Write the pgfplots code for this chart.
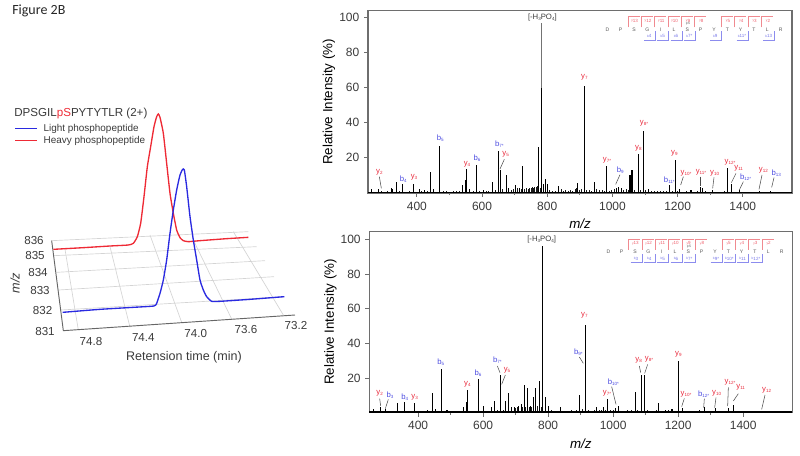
\documentclass[border=0pt]{standalone}
\usepackage{pgfplots}
\pgfplotsset{compat=1.18}
\usepackage{fontspec}
\setmainfont{Liberation Sans}
\newfontfamily\calibri{Carlito}
\definecolor{txt}{HTML}{3A3A3A}
\definecolor{fr}{HTML}{6E6E6E}
\definecolor{gridg}{HTML}{D4D4D4}
\definecolor{lred}{HTML}{EE2A35}
\definecolor{lblue}{HTML}{2A2AE0}
\definecolor{fred}{HTML}{E8283A}
\definecolor{fblue}{HTML}{4A4AE0}
\definecolor{mred}{HTML}{F08A90}
\definecolor{mblue}{HTML}{8C8CEE}

% strong peaks, m/z and relative intensity
\pgfplotstableread{
mz h
261 2.3
283 2.3
321 3
326 2
338 6.2
356 5
389 5.3
408 2
424 1.5
442 12
451 2
470 27
539 4.5
548 7.5
552 13.5
562 2
582 16
603 1.5
632 6
651 24
656 13
675 10.5
682 3
702 4.5
714 3
725 15.5
774 26
781 60
788 5
796 8
802 5
834 4
894 5.5
913 61
945 6
982 15.5
1012 3
1020 3.5
1028 3
1054 10.5
1060 13
1079 22
1094 35
1112 2.5
1176 4.5
1194 18.5
1207 2.5
1241 1.5
1269 3.5
1275 3
1308 1.5
1354 14
1364 5
1390 1.5
1450 1
1486 1
}\toppeaks
% small peaks along the baseline
\pgfplotstableread{
mz h
255 .6
270 .8
292 1
300 .7
310 .9
333 .8
346 1
368 .7
378 1
397 .8
415 1.2
433 .9
460 .8
480 1
490 1.3
500 .8
512 1
520 .9
530 1.2
575 1
592 .9
612 1.1
620 1.4
642 1.5
664 2
690 1.8
696 2.2
708 2.6
720 2
731 2.2
737 2.8
741 2.2
745 3
750 2.6
754 3.2
758 2.8
762 3.6
766 3.2
770 4
778 3
808 1.5
815 1.2
826 1.4
842 2
850 1.4
857 1.8
864 1.2
871 1.7
878 1.3
885 2
890 3
900 1.6
906 2
921 1.5
928 1.8
935 1.4
952 2
960 1.5
968 1.8
975 1.2
990 1.4
998 1.8
1005 2.2
1035 1.5
1042 2
1048 1.6
1068 1.5
1087 1.8
1102 1.5
1120 1.3
1128 1
1138 1.2
1146 .9
1155 1.1
1165 1.3
1185 1.2
1200 1.3
1215 .8
1228 .9
1250 .7
1260 1
1285 .9
1296 .7
1320 .6
1335 .7
1345 1.1
1375 .8
1400 .6
1420 .5
1465 .5
1510 .4
}\topsmall
\pgfplotstableread{
mz h
263 2
283 3
300 2
338 5.8
358 6.3
390 5.8
428 1.5
443 11.5
453 2
471 25
489 1.5
540 3
549 6
553 13
585 19.5
602 4
626 3
634 7
653 21.5
670 6.5
677 11.5
687 3
696 3
710 4
717 5
726 16
736 14.5
746 4
754 9
761 14
774 18
784 96
792 9
802 4
838 3
896 10
915 50.5
949 3
971 3
983 8
1007 2.5
1016 4
1069 12
1087 21.5
1097 21.5
1140 5.5
1161 1.5
1181 2
1200 30
1212 2.5
1267 1.5
1280 3.5
1314 2.5
1354 2.5
1371 4.5
1458 1
}\botpeaks
\pgfplotstableread{
mz h
255 .5
272 .8
292 .9
310 .7
322 1
348 1
368 .7
378 .8
400 .7
415 1
436 .8
462 .9
480 .8
498 .9
510 .7
522 .8
532 1.1
570 .9
593 1
612 .9
620 1.2
645 1.4
662 1.5
700 2.5
705 3
722 3
731 3.4
741 3
750 3.5
768 4
779 3
810 1.4
818 1.2
826 1.2
846 1
855 1.2
863 1
872 1.4
880 1.2
888 1.6
905 2
925 1.3
934 1
942 1.4
958 1.4
965 1.6
977 1.4
992 1.3
1000 1.6
1025 1.2
1035 1.1
1045 1.3
1055 1.4
1062 1.2
1076 1.4
1105 1.6
1115 1.2
1125 1
1133 1.4
1150 1.1
1170 1.3
1188 1.1
1206 1
1222 .8
1235 .7
1248 .8
1258 1
1295 .7
1325 .8
1340 .9
1362 1
1385 .7
1405 .7
1430 .5
1480 .4
1520 .3
}\botsmall

\pgfplotsset{
  spec/.style={
    scale only axis,
    width=318pt,
    xmin=250, xmax=1551,
    ymin=0,
    axis line style={fr,line width=.8pt},
    xtick={400,600,...,1400},
    ytick={20,40,...,100},
    minor x tick num=1,
    xtick pos=bottom, ytick pos=left,
    tick align=outside,
    tick style={fr,line width=.6pt},
    major tick length=3pt,
    minor tick length=1.5pt,
    tick label style={font=\fontsize{9}{10}\selectfont,text=txt},
    /pgf/number format/assume math mode=true,
    /pgf/number format/1000 sep={},
    label style={font=\fontsize{10}{11}\selectfont,text=txt},
    xlabel={\textit{m/z}},
    ylabel={Relative Intensity (\%)},
    every axis x label/.style={at={(axis description cs:0.5,-0.17)},anchor=center},
    every axis y label/.style={at={(axis description cs:-0.092,0.5)},anchor=center,rotate=90},
    clip=false,
  },
  pk/.style={black,ycomb,no markers,line width=.8pt},
  sm/.style={black!90,ycomb,no markers,line width=.65pt},
  base/.style={black,no markers,line width=1.2pt},
}
\newcommand{\sub}[1]{\raisebox{-.25ex}{\fontsize{3.4}{3.4}\selectfont #1}}
\newcommand{\fl}[4]{\node[font=\fontsize{5.8}{6}\selectfont,text=#1,inner sep=0pt] at (#2,#3) {#4};}
\newcommand{\ld}[4]{\draw[black!70,line width=.4pt] (#1,#2)--(#3,#4);}
% peptide map: letters at #1 row, #2 is x of the D
\newcommand{\seq}[2]{%
  \foreach \l [count=\i from 0] in {D,P,S,G,I,L,S,P,Y,T,Y,T,L,R}
    \node[font=\fontsize{3.8}{4}\selectfont,text=black!65,inner sep=0pt] at ({#2+40*\i},#1) {\l};}
\newcommand{\redc}[3]{% x, top y, label
  \draw[mred,line width=.45pt] (#1,#2+32)--(#1,#2)--(#1+35,#2);
  \node[font=\fontsize{2.4}{3}\selectfont,text=fred!75,inner sep=0pt] at (#1+20,#2+12) {#3};}
\newcommand{\bluec}[3]{% right x, bottom y, label
  \draw[mblue,line width=.45pt] (#1-34,#2)--(#1,#2)--(#1,#2-26);
  \node[font=\fontsize{2.4}{3}\selectfont,text=fblue!75,inner sep=0pt] at (#1-18,#2-12) {#3};}

\begin{document}
\begin{tikzpicture}
\path[use as bounding box] (0pt,0pt) rectangle (600pt,-342pt);

\node[font=\calibri\fontsize{10.5}{12}\selectfont,text=black!85,anchor=west,inner sep=0pt] at (9pt,-8.5pt) {Figure 2B};

% left panel, coordinates
\begin{axis}[
  at={(0pt,-67.5pt)},anchor=north west,
  scale only axis,width=232.5pt,height=217.5pt,
  xmin=0,xmax=930,ymin=0,ymax=870,y dir=reverse,
  hide axis,clip=false,
]
\addplot[gridg,line width=.5pt,no markers] coordinates {(162,497) (770,470)};
\addplot[gridg,line width=.5pt,no markers] coordinates {(170,547) (795,512)};
\addplot[gridg,line width=.5pt,no markers] coordinates {(176,600) (822,560)};
\addplot[gridg,line width=.5pt,no markers] coordinates {(183,660) (852,620)};
\addplot[gridg,line width=.5pt,no markers] coordinates {(155,452) (745,425)};
\addplot[gridg,line width=.5pt,no markers] coordinates {(235,720) (195,478)};
\addplot[gridg,line width=.5pt,no markers] coordinates {(390,712) (330,470)};
\addplot[gridg,line width=.5pt,no markers] coordinates {(545,697) (450,435)};
\addplot[gridg,line width=.5pt,no markers] coordinates {(695,687) (580,450)};
\addplot[gridg,line width=.5pt,no markers] coordinates {(850,675) (700,425)};
\addplot[black!60,line width=.7pt,no markers] coordinates {(155,452) (190,722) (885,675)};
\addplot[lred,line width=1pt,no markers,smooth,tension=.3] coordinates {
(160,478) (250,473) (330,468) (385,465) (400,460) (412,440) (422,400) (432,320) (442,230) (452,170) (462,110) (470,80) (475,72) (480,82) (490,130) (500,220) (510,310) (520,370) (530,420) (540,443) (550,452) (565,455) (600,452) (680,446) (745,442)};
\addplot[lblue,line width=1pt,no markers,smooth,tension=.3] coordinates {
(188,667) (300,658) (400,652) (462,648) (470,640) (480,610) (490,570) (500,510) (510,430) (520,360) (530,300) (540,255) (548,238) (553,240) (560,290) (570,380) (580,450) (590,510) (600,570) (610,600) (620,620) (635,634) (660,634) (750,628) (853,620)};
\addplot[lblue,line width=1pt,no markers] coordinates {(45,116) (112,116)};
\addplot[lred,line width=1pt,no markers] coordinates {(45,152) (112,152)};
\end{axis}

\begin{scope}[shift={(0pt,-67.5pt)},x=.25pt,y=-.25pt]
\node[font=\fontsize{8.7}{10}\selectfont,text=txt,anchor=west,inner sep=0pt] at (42,72) {DPSGIL\textcolor{lred}{pS}PYTYTLR (2+)};
\node[font=\fontsize{7.45}{9}\selectfont,text=txt,anchor=west,inner sep=0pt] at (130,116) {Light phosphopeptide};
\node[font=\fontsize{7.45}{9}\selectfont,text=txt,anchor=west,inner sep=0pt] at (130,152) {Heavy phosphopeptide};
\foreach \t/\x/\y in {836/102/452,835/105/497,834/114/548,833/120/602,832/128/663,831/135/725,74.8/273/755,74.4/430/742,74.0/587/730,73.6/738/720,73.2/888/707}
  \node[font=\fontsize{8.7}{10}\selectfont,text=txt,inner sep=0pt] at (\x,\y) {\t};
\node[font=\fontsize{9.4}{11}\selectfont,text=txt,inner sep=0pt] at (552,802) {Retension time (min)};
\node[font=\fontsize{9.5}{11}\selectfont\itshape,text=txt,rotate=90,inner sep=0pt] at (45,580) {m/z};
\end{scope}

% top spectrum
\begin{axis}[spec,at={(276pt,-144.75pt)},anchor=south west,height=136.7pt,ymax=103.7]
\addplot[sm] table[x=mz,y=h] {\topsmall};
\addplot[black!55,ycomb,no markers,line width=.8pt] coordinates {(781,97)};
\addplot[pk] table[x=mz,y=h] {\toppeaks};
\addplot[base] coordinates {(250,.25) (1551,.25)};
\end{axis}

% bottom spectrum
\begin{axis}[spec,at={(277pt,-309.5pt)},anchor=south west,height=136pt,ymax=104.7,width=317.2pt]
\addplot[sm] table[x=mz,y=h] {\botsmall};
\addplot[pk] table[x=mz,y=h] {\botpeaks};
\addplot[base] coordinates {(250,.25) (1551,.25)};
\end{axis}

% annotations of the top spectrum
\begin{scope}[shift={(232.5pt,0pt)},x=.25pt,y=-.25pt]
\fl{txt}{697}{53}{[-H\sub{3}PO\sub{4}]}
\fl{fred}{208}{517}{y\sub{2}} \ld{208}{530}{214}{565}
\fl{fblue}{280}{538}{b\sub{4}}
\fl{fred}{312}{531}{y\sub{3}}
\fl{fblue}{391}{415}{b\sub{5}}
\fl{fred}{471}{492}{y\sub{4}}
\fl{fblue}{501}{476}{b\sub{6}}
\fl{fblue}{568}{432}{b\sub{7*}}
\fl{fred}{587}{464}{y\sub{5}} \ld{583}{478}{570}{507}
\end{scope}
\begin{scope}[shift={(412.5pt,0pt)},x=.25pt,y=-.25pt]
\fl{fred}{103}{232}{y\sub{7}}
\fl{fred}{171}{480}{y\sub{7*}}
\fl{fblue}{211}{512}{b\sub{9}} \ld{210}{524}{197}{553}
\fl{fred}{265}{446}{y\sub{8}}
\fl{fred}{282}{371}{y\sub{8*}}
\fl{fblue}{358}{541}{b\sub{11*}}
\fl{fred}{373}{461}{y\sub{9}}
\fl{fred}{408}{519}{y\sub{10*}} \ld{400}{530}{392}{555}
\fl{fred}{453}{517}{y\sub{11*}} \ld{450}{530}{450}{557}
\fl{fred}{494}{519}{y\sub{10}} \ld{492}{532}{488}{565}
\fl{fred}{540}{487}{y\sub{12*}}
\fl{fred}{566}{506}{y\sub{11}} \ld{558}{520}{544}{548}
\fl{fblue}{587}{532}{b\sub{12*}} \ld{580}{545}{568}{570}
\fl{fred}{640}{511}{y\sub{12}} \ld{636}{525}{627}{568}
\fl{fblue}{679}{520}{b\sub{13}} \ld{672}{533}{665}{562}
\seq{88}{172}
\node[font=\fontsize{2.6}{3}\selectfont,text=black!60,inner sep=0pt] at (414,72) {pS};
\foreach \x/\t in {234/y\sub{13},274/y\sub{12},314/y\sub{11},354/y\sub{10},394/y\sub{9},434/y\sub{8},514/y\sub{5},554/y\sub{4},594/y\sub{3},634/y\sub{2}}
  {\redc{\x}{50}{\t}}
\foreach \x/\t in {316/b\sub{4},356/b\sub{5},396/b\sub{6},436/b\sub{7*},514/b\sub{9},594/b\sub{11*},674/b\sub{13}}
  {\bluec{\x}{120}{\t}}
\end{scope}

% annotations of the bottom spectrum
\begin{scope}[shift={(232.5pt,-169.5pt)},x=.25pt,y=-.25pt]
\fl{txt}{695}{40}{[-H\sub{3}PO\sub{4}]}
\fl{fred}{209}{503}{y\sub{2}} \ld{209}{518}{212}{540}
\fl{fblue}{240}{508}{b\sub{3}} \ld{235}{520}{226}{548}
\fl{fblue}{284}{515}{b\sub{4}}
\fl{fred}{314}{514}{y\sub{3}}
\fl{fblue}{392}{409}{b\sub{5}}
\fl{fred}{472}{474}{y\sub{4}}
\fl{fblue}{504}{441}{b\sub{6}}
\fl{fblue}{562}{403}{b\sub{7*}} \ld{562}{420}{570}{440}
\fl{fred}{591}{432}{y\sub{5}} \ld{586}{447}{575}{475}
\end{scope}
\begin{scope}[shift={(412.5pt,-169.5pt)},x=.25pt,y=-.25pt]
\fl{fred}{103}{268}{y\sub{7}}
\fl{fblue}{85}{379}{b\sub{9*}} \ld{88}{393}{100}{412}
\fl{fred}{171}{503}{y\sub{7*}}
\fl{fblue}{190}{469}{b\sub{10*}} \ld{185}{482}{198}{535}
\fl{fred}{266}{404}{y\sub{8}} \ld{268}{420}{272}{440}
\fl{fred}{297}{401}{y\sub{8*}} \ld{293}{415}{284}{442}
\fl{fred}{385}{384}{y\sub{9}}
\fl{fred}{408}{505}{y\sub{10*}} \ld{403}{517}{395}{542}
\fl{fblue}{461}{504}{b\sub{12*}} \ld{463}{518}{461}{545}
\fl{fred}{500}{501}{y\sub{10}} \ld{498}{515}{494}{545}
\fl{fred}{540}{468}{y\sub{12*}} \ld{535}{484}{533}{540}
\fl{fred}{572}{485}{y\sub{11}} \ld{565}{503}{550}{525}
\fl{fred}{650}{492}{y\sub{12}} \ld{645}{507}{635}{550}
\seq{78}{175}
\node[font=\fontsize{2.6}{3}\selectfont,text=black!60,inner sep=0pt] at (417,62) {pS};
\foreach \x/\t in {236/y\sub{13},276/y\sub{12},316/y\sub{11},356/y\sub{10},396/y\sub{9},436/y\sub{8},516/y\sub{5},556/y\sub{4},596/y\sub{3},636/y\sub{2}}
  {\redc{\x}{40}{\t}}
\foreach \x/\t in {276/b\sub{3},316/b\sub{4},356/b\sub{5},396/b\sub{6},436/b\sub{7*},516/b\sub{9*},556/b\sub{10*},596/b\sub{11},636/b\sub{12*}}
  {\bluec{\x}{110}{\t}}
\end{scope}
\end{tikzpicture}
\end{document}
